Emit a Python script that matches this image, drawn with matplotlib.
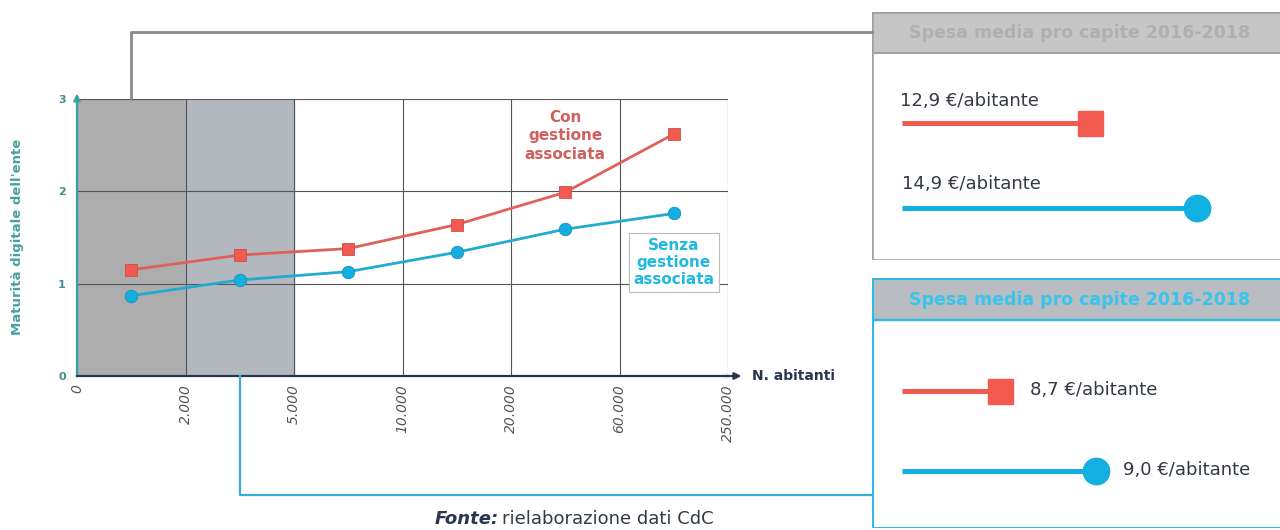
import matplotlib.pyplot as plt
from matplotlib.lines import Line2D
from matplotlib.patches import Rectangle

# classi di popolazione (N. abitanti)
bounds = ['0', '2.000', '5.000', '10.000', '20.000', '60.000', '250.000']
con_gestione = [1.15, 1.31, 1.38, 1.64, 1.99, 2.62]
senza_gestione = [0.87, 1.04, 1.13, 1.34, 1.59, 1.76]

# spesa media pro capite 2016-2018 (euro per abitante)
spesa_piccoli = [12.9, 14.9]   # con, senza gestione associata
spesa_grandi = [8.7, 9.0]
spesa_labels_piccoli = ['12,9 €/abitante', '14,9 €/abitante']
spesa_labels_grandi = ['8,7 €/abitante', '9,0 €/abitante']

RED = '#e0605a'
RED_M = '#f25a50'
BLUE = '#22aad0'
BLUE_M = '#12b0e0'
TEAL = '#3aa0a8'
NAVY = '#2a3550'

plt.rcParams['font.family'] = ['DejaVu Sans']

W, H = 1280, 530
fig = plt.figure(figsize=(12.8, 5.3), dpi=100)


def fx(px):
    return px / W


def fy(py):
    return 1 - py / H


# main chart
ax = fig.add_axes([fx(77), fy(376), fx(728) - fx(77), fy(99) - fy(376)])
n = len(con_gestione)
xs = list(range(n))
ax.set_xlim(-0.5, n - 0.5)
ax.set_ylim(0, 3)
ax.axvspan(-0.5, 0.5, color='#adadad', zorder=0)
ax.axvspan(0.5, 1.5, color='#b3b8bf', zorder=0)
for b in range(n + 1):
    ax.axvline(b - 0.5, color='#555555', lw=0.8, zorder=1)
for v in [1, 2, 3]:
    ax.axhline(v, color='#555555', lw=0.8, zorder=1)

ax.plot(xs, con_gestione, color=RED, lw=2, marker='s', ms=8.5,
        mfc=RED_M, mec='#c85048', mew=0.6, zorder=4)
ax.plot(xs, senza_gestione, color=BLUE, lw=2, marker='o', ms=9,
        mfc=BLUE_M, mec='#1890b8', mew=0.6, zorder=4)

for s in ['top', 'right']:
    ax.spines[s].set_visible(False)
ax.spines['left'].set_color(TEAL)
ax.spines['left'].set_linewidth(1.6)
ax.spines['bottom'].set_color(NAVY)
ax.spines['bottom'].set_linewidth(1.6)
ax.set_xticks([b - 0.5 for b in range(n + 1)])
ax.set_xticklabels(bounds, rotation=90, fontstyle='italic', color='#555555',
                   fontsize=10, va='top', ha='center')
ax.set_yticks([0, 1, 2, 3])
ax.set_yticklabels(['0', '1', '2', '3'], fontweight='bold', color='#4a8a90', fontsize=8)
ax.tick_params(length=0, pad=6)
ax.tick_params(axis='y', pad=8)

ax.annotate('', xy=(0, 1.03), xytext=(0, 0.99), xycoords='axes fraction',
            arrowprops=dict(arrowstyle='-|>', color=TEAL, lw=1.6,
                            mutation_scale=10), annotation_clip=False)
ax.annotate('', xy=(1.025, 0), xytext=(0.99, 0), xycoords='axes fraction',
            arrowprops=dict(arrowstyle='-|>', color=NAVY, lw=1.6,
                            mutation_scale=10), annotation_clip=False)

ax.text(4, 2.6, 'Con\ngestione\nassociata', ha='center', va='center',
        color='#d0605e', fontweight='bold', fontsize=11, linespacing=1.3, zorder=5)
ax.text(5, 1.23, 'Senza\ngestione\nassociata', ha='center', va='center',
        color='#22b8e0', fontweight='bold', fontsize=11, linespacing=1.2, zorder=5,
        bbox=dict(boxstyle='square,pad=0.3', fc='white', ec='#bbbbbb', lw=0.8))

fig.text(fx(752), fy(376), 'N. abitanti', fontweight='bold', color=NAVY,
         fontsize=10, ha='left', va='center')
fig.text(fx(18), fy(237), "Maturità digitale dell'ente", rotation=90,
         fontweight='bold', color='#4aa0a0', fontsize=9.5, ha='center', va='center')

# connectors
fig.add_artist(Line2D([fx(131), fx(131), fx(872)], [fy(99), fy(32), fy(32)],
                      color='#8a8a8a', lw=2, transform=fig.transFigure))
fig.add_artist(Line2D([fx(240), fx(240), fx(872)], [fy(376), fy(495), fy(495)],
                      color='#30b0d8', lw=1.6, transform=fig.transFigure))


def box(top, bottom, head, edge, head_fc, head_color, ew):
    bx = fig.add_axes([fx(872), fy(bottom), 0.4, fy(top) - fy(bottom)])
    bx.set_xlim(872, 872 + 0.4 * W)
    bx.set_ylim(bottom, top)
    bx.axis('off')
    bx.add_patch(Rectangle((872, top), 500, head - top, fc=head_fc, ec='none'))
    bx.add_patch(Rectangle((872, top), 500, bottom - top, fc='none', ec=edge, lw=ew))
    bx.plot([872, 1372], [head, head], color=edge, lw=ew * 0.8)
    bx.text(1080, (top + head) / 2 + 1, 'Spesa media pro capite 2016-2018',
            ha='center', va='center', fontweight='bold', fontsize=12.5, color=head_color)


box(12, 260, 53, '#a0a0a0', '#c6c6c6', '#b0b0b0', 1.8)
box(278, 528, 320, '#30bce0', '#b9bdc2', '#38c4ec', 2.2)


def spesa_axes(top, bottom, vmin, vmax):
    sx = fig.add_axes([fx(902), fy(bottom), fx(1280) - fx(902), fy(top) - fy(bottom)])
    sx.set_xlim(vmin, vmax)
    sx.set_ylim(bottom, top)
    sx.axis('off')
    return sx


# top box: comuni piccoli
s1 = spesa_axes(60, 255, 9.39, 16.46)
s1.plot([9.39, spesa_piccoli[0]], [123, 123], color=RED_M, lw=3.6,
        marker='s', ms=18, markevery=[1], solid_capstyle='butt')
s1.plot([9.39, spesa_piccoli[1]], [208, 208], color=BLUE_M, lw=3.6,
        marker='o', ms=19, markevery=[1], solid_capstyle='butt')
s1.text(9.35, 101, spesa_labels_piccoli[0], ha='left', va='center', fontsize=13, color='#333a44')
s1.text(9.39, 184, spesa_labels_piccoli[1], ha='left', va='center', fontsize=13, color='#333a44')

# bottom box: comuni grandi
s2 = spesa_axes(325, 525, 8.394, 9.575)
s2.plot([8.394, spesa_grandi[0]], [391, 391], color=RED_M, lw=3.6,
        marker='s', ms=18, markevery=[1], solid_capstyle='butt')
s2.plot([8.394, spesa_grandi[1]], [471, 471], color=BLUE_M, lw=3.6,
        marker='o', ms=19, markevery=[1], solid_capstyle='butt')
s2.text(spesa_grandi[0] + 0.095, 390, spesa_labels_grandi[0], ha='left', va='center',
        fontsize=13, color='#333a44')
s2.text(spesa_grandi[1] + 0.083, 470, spesa_labels_grandi[1], ha='left', va='center',
        fontsize=13, color='#333a44')

fig.text(fx(435), fy(524), 'Fonte:', fontweight='bold', fontstyle='italic',
         color=NAVY, fontsize=13, ha='left', va='baseline')
fig.text(fx(502), fy(524), 'rielaborazione dati CdC', color='#333a44',
         fontsize=13, ha='left', va='baseline')

fig.savefig('out.png', dpi=100, facecolor='white')
